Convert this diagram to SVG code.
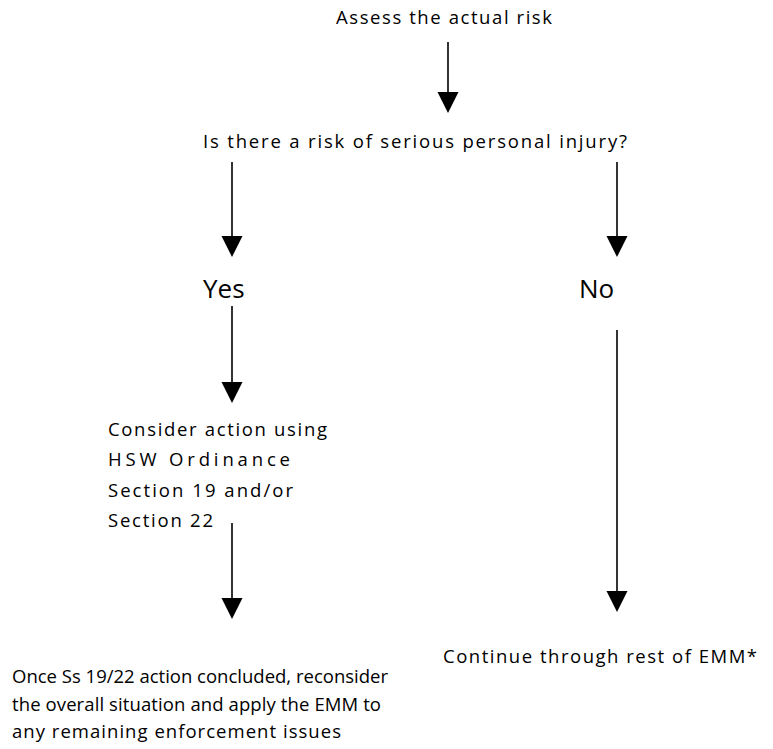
<svg xmlns="http://www.w3.org/2000/svg" width="773" height="749" viewBox="0 0 773 749">
<style>
  .t { font-family: "Open Sans", "Liberation Sans", sans-serif; font-size: 18.5px; fill: #000; }
  .big { font-family: "Open Sans", "Liberation Sans", sans-serif; font-size: 26px; fill: #000; }
  .c { stroke: #000; stroke-width: 1.6; fill: none; }
</style>
<defs>
  <polygon id="head" points="-10.5,0 10.5,0 0,21" fill="#000"/>
</defs>
<rect width="773" height="749" fill="#fff"/>
<g id="connectors">
  <g id="c1"><line class="c" x1="448" y1="42" x2="448" y2="95"/><use href="#head" x="448" y="92"/></g>
  <g id="c2"><line class="c" x1="232" y1="162" x2="232" y2="240"/><use href="#head" x="232" y="236"/></g>
  <g id="c3"><line class="c" x1="617" y1="162" x2="617" y2="240"/><use href="#head" x="617" y="236"/></g>
  <g id="c4"><line class="c" x1="232" y1="306" x2="232" y2="385"/><use href="#head" x="232" y="382"/></g>
  <g id="c5"><line class="c" x1="617" y1="330" x2="617" y2="595"/><use href="#head" x="617" y="591"/></g>
  <g id="c6"><line class="c" x1="232" y1="523" x2="232" y2="602"/><use href="#head" x="232" y="598"/></g>
</g>
<g id="n1"><text class="t" x="336" y="24" textLength="216" lengthAdjust="spacing">Assess the actual risk</text></g>
<g id="n2"><text class="t" x="203" y="148" textLength="424" lengthAdjust="spacing">Is there a risk of serious personal injury?</text></g>
<g id="n3"><text class="big" x="203" y="298">Yes</text></g>
<g id="n4"><text class="big" x="579" y="298">No</text></g>
<g id="n5">
  <text class="t" x="108" y="436" textLength="219" lengthAdjust="spacing">Consider action using</text>
  <text class="t" x="108" y="466" textLength="182" lengthAdjust="spacing">HSW Ordinance</text>
  <text class="t" x="108" y="497" textLength="185" lengthAdjust="spacing">Section 19 and/or</text>
  <text class="t" x="108" y="527" textLength="105" lengthAdjust="spacing">Section 22</text>
</g>
<g id="n6"><text class="t" x="443" y="663" textLength="314" lengthAdjust="spacing">Continue through rest of EMM*</text></g>
<g id="n7">
  <text class="t" x="12" y="683" textLength="376" lengthAdjust="spacing">Once Ss 19/22 action concluded, reconsider</text>
  <text class="t" x="12" y="711" textLength="369" lengthAdjust="spacing">the overall situation and apply the EMM to</text>
  <text class="t" x="12" y="738" textLength="329" lengthAdjust="spacing">any remaining enforcement issues</text>
</g>
</svg>
